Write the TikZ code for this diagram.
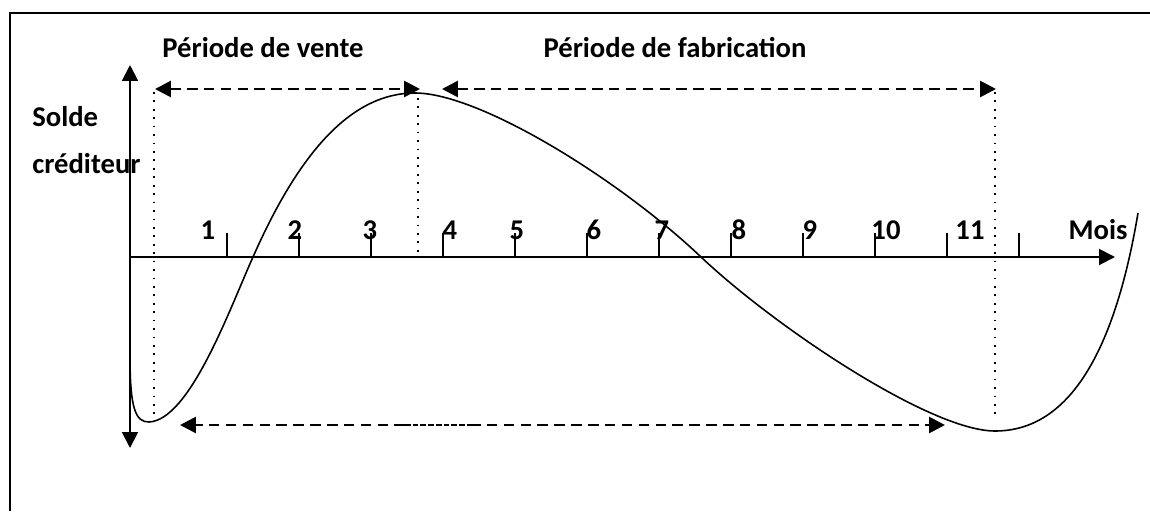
\documentclass[tikz,border=0pt]{standalone}
\usepackage{fontspec}
\setmainfont{Carlito}
\usetikzlibrary{arrows.meta}

\begin{document}
\begin{tikzpicture}[x=0.02cm, y=-0.02cm,
    axe/.style={line width=1.1pt, -{Triangle[length=9pt,width=9pt]}},
    courbe/.style={line width=0.9pt},
    periode/.style={line width=1.6pt, dash pattern=on 6pt off 3.6pt, {Triangle[length=9pt,width=9pt]}-{Triangle[length=9pt,width=9pt]}},
    demi/.style={line width=1.6pt, dash pattern=on 6pt off 3.6pt, -{Triangle[length=9pt,width=9pt]}},
    fin/.style={line width=0.7pt, dash pattern=on 3.2pt off 1.2pt},
    repere/.style={line width=1pt, dash pattern=on 1pt off 3.8pt},
    lbl/.style={font=\fontsize{16.3}{18}\selectfont\bfseries, inner sep=0pt}
]
\useasboundingbox (0,0) rectangle (1150,511);
\draw[line width=1.2pt] (10,511) -- (10,13) -- (1150,13);

% axes
\coordinate (O) at (130,257);
\coordinate (yh) at (130,65);
\coordinate (yb) at (130,448);
\coordinate (xd) at (1115,257);
\draw[axe] (O) -- (yh);
\draw[axe] (O) -- (yb);
\draw[axe] (O) -- (xd);
\foreach \i in {0,...,11}
    \draw[line width=0.8pt] (227+72*\i,257) -- ++(0,-24);

% mois
\foreach \m/\x in {1/208,2/295,3/370,4/450,5/517,6/594,7/662,8/739,9/810,10/886,11/970}
    \node[lbl] (m\m) at (\x,230) {\m};
\node[lbl] (mois) at (1098,230) {Mois};
\node[lbl, anchor=west] (solde) at (32,117) {Solde};
\node[lbl, anchor=west] (cred) at (32,164) {créditeur};

% periodes
\node[lbl] (vente) at (263,48) {Période de vente};
\node[lbl] (fab) at (675,48) {Période de fabrication};
\coordinate (v1) at (155,89);
\coordinate (v2) at (420,89);
\coordinate (f1) at (442,89);
\coordinate (f2) at (996,89);
\draw[periode] (v1) -- (v2);
\draw[periode] (f1) -- (f2);

% reperes verticaux
\draw[repere] (154,92) -- (154,418);
\draw[repere] (418,98) -- (418,257);
\draw[repere] (995,92) -- (995,418);

% fleche du bas
\coordinate (b1) at (180,425);
\coordinate (b2) at (405,425);
\coordinate (b3) at (470,425);
\coordinate (b4) at (945,425);
\draw[demi] (b2) -- (b1);
\draw[fin] (b2) -- (b3);
\draw[demi] (b3) -- (b4);

% solde
\draw[courbe] (130,357) .. controls (130,410) and (136,422) .. (149,422)
    .. controls (190,420) and (230,308) .. (253,257)
    .. controls (298,155) and (350,93) .. (415,93)
    .. controls (480,93) and (620,180) .. (701,257)
    .. controls (774,326) and (930,431) .. (995,431)
    .. controls (1070,431) and (1115,350) .. (1138,213);
\end{tikzpicture}
\end{document}
